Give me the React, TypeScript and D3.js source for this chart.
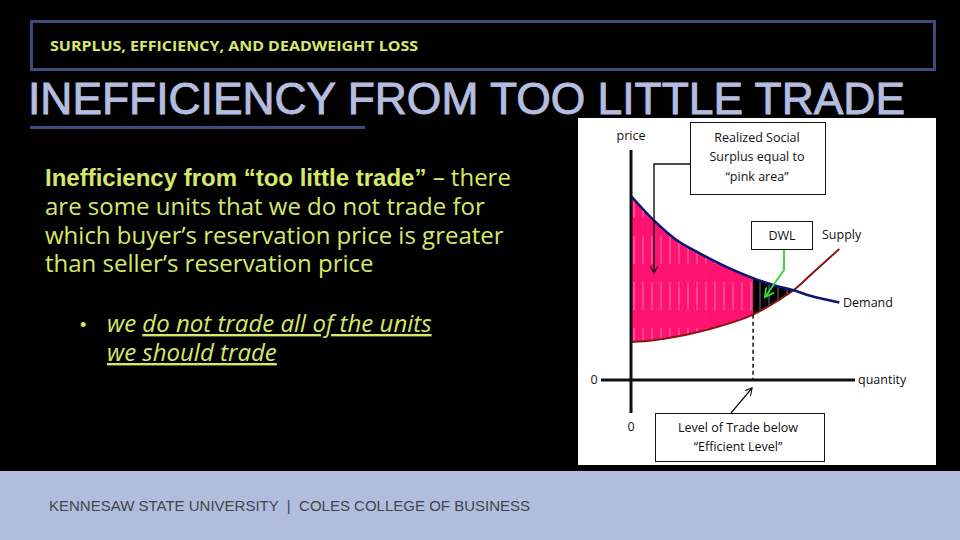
import React from "react";
import * as d3 from "d3";

// ---- data ----
const quantity = [0, 1, 2, 3, 4, 5.45, 6.5, 7.25, 8, 9.3];
const demandPrice = [8.0, 6.96, 6.11, 5.54, 5.04, 4.43, 4.09, 3.9, 3.66, 3.37];
const supplyPrice = [1.65, 1.73, 1.88, 2.09, 2.35, 2.84, 3.42, 3.9, 4.55, 5.7];
const tradeLevel = 5.45;
const efficientLevel = 7.25;
const axisMax = 10;

const headerText = "SURPLUS, EFFICIENCY, AND DEADWEIGHT LOSS";
const titleText = "INEFFICIENCY FROM TOO LITTLE TRADE";
const bodyLines = [
  "are some units that we do not trade for",
  "which buyer’s reservation price is greater",
  "than seller’s reservation price",
];
const footerText = "KENNESAW STATE UNIVERSITY  |  COLES COLLEGE OF BUSINESS";

type Pt = { q: number; d: number; s: number };
const rows: Pt[] = quantity.map((q, i) => ({ q, d: demandPrice[i], s: supplyPrice[i] }));

export default function App() {
  const x = d3.scaleLinear().domain([0, axisMax]).range([631, 855]);
  const y = d3.scaleLinear().domain([0, axisMax]).range([380, 150]);

  const lineD = d3.line<Pt>().x((r) => x(r.q)).y((r) => y(r.d)).curve(d3.curveMonotoneX);
  const lineS = d3.line<Pt>().x((r) => x(r.q)).y((r) => y(r.s)).curve(d3.curveMonotoneX);
  const area = d3
    .area<Pt>()
    .x((r) => x(r.q))
    .y0((r) => y(r.s))
    .y1((r) => y(r.d))
    .curve(d3.curveMonotoneX);

  const surplusRows = rows.filter((r) => r.q <= tradeLevel);
  const dwlRows = rows.filter((r) => r.q >= tradeLevel && r.q <= efficientLevel);
  const tradeRow = rows.find((r) => r.q === tradeLevel)!;

  const lab = { fontFamily: "'Open Sans', sans-serif", fontSize: 12.5, fill: "#111" } as const;
  const green = "#3ad63a";

  return (
    <svg
      width={960}
      height={540}
      style={{ position: "absolute", left: 0, top: 0, display: "block" }}
    >
      <defs>
        <pattern id="streak" patternUnits="userSpaceOnUse" width={9} height={46}>
          <line x1={4} y1={6} x2={4} y2={34} stroke="#fff" strokeOpacity={0.5} strokeWidth={0.9} />
        </pattern>
        <marker id="ah" viewBox="0 0 10 10" refX={9} refY={5} markerWidth={8} markerHeight={8} orient="auto-start-reverse" markerUnits="userSpaceOnUse">
          <path d="M0,0 L9,5 L0,10" fill="none" stroke="#111" strokeWidth={1.4} />
        </marker>
        <marker id="ahg" viewBox="0 0 10 10" refX={9} refY={5} markerWidth={10} markerHeight={10} orient="auto" markerUnits="userSpaceOnUse">
          <path d="M0,0 L9,5 L0,10" fill="none" stroke={green} strokeWidth={1.8} />
        </marker>
      </defs>

      <rect x={0} y={0} width={960} height={540} fill="#000" />

      {/* header */}
      <rect x={31.5} y={21.5} width={903} height={48} fill="none" stroke="#3e4a7e" strokeWidth={3} />
      <text
        x={50}
        y={51}
        fontFamily="'Open Sans', sans-serif"
        fontWeight={700}
        fontSize={15}
        fill="#d6e86a"
        textLength={368}
        lengthAdjust="spacingAndGlyphs"
      >
        {headerText}
      </text>
      <text
        x={28}
        y={114}
        fontFamily="'Liberation Sans', Arial, sans-serif"
        fontSize={44}
        fill="#b4bddf"
        stroke="#b4bddf"
        strokeWidth={0.9}
        textLength={877}
        lengthAdjust="spacingAndGlyphs"
      >
        {titleText}
      </text>
      <rect x={30} y={126} width={335} height={3} fill="#3e4a7e" />

      {/* body text */}
      <g fill="#d6e86a" fontSize={24}>
        <text x={45} y={186}>
          <tspan fontFamily="'Liberation Sans', Arial, sans-serif" fontWeight={700}>
            Inefficiency from “too little trade”
          </tspan>
          <tspan fontFamily="'Open Sans', sans-serif"> – there</tspan>
        </text>
        {bodyLines.map((t, i) => (
          <text key={i} x={45} y={215 + i * 28.7} fontFamily="'Open Sans', sans-serif">
            {t}
          </text>
        ))}
        <text x={80} y={331} fontFamily="'Liberation Sans', Arial, sans-serif" fontSize={18}>•</text>
        <text x={107} y={332} fontFamily="'Open Sans', sans-serif" fontStyle="italic">
          we <tspan style={{ textDecoration: "underline" }}>do not trade all of the units</tspan>
        </text>
        <text x={107} y={361} fontFamily="'Open Sans', sans-serif" fontStyle="italic" style={{ textDecoration: "underline" }}>
          we should trade
        </text>
      </g>

      {/* chart panel */}
      <rect x={578} y={118} width={358} height={347} fill="#fff" />

      {/* surplus area */}
      <path d={area(surplusRows)!} fill="#ff1270" />
      <path d={area(surplusRows)!} fill="url(#streak)" />
      {/* deadweight loss */}
      <path d={area(dwlRows)!} fill="#000" />
      <path d={area(dwlRows)!} fill="url(#streak)" />

      {/* curves */}
      <path d={lineS(rows)!} fill="none" stroke="#8e1414" strokeWidth={2} />
      <path d={lineD(rows)!} fill="none" stroke="#0b1670" strokeWidth={2.6} />

      {/* dashed trade level */}
      <line
        x1={x(tradeLevel)}
        x2={x(tradeLevel)}
        y1={y(tradeRow.s)}
        y2={y(0)}
        stroke="#111"
        strokeWidth={1.5}
        strokeDasharray="4 3"
      />

      {/* axes */}
      <line x1={x(0)} x2={x(0)} y1={y(axisMax)} y2={413} stroke="#111" strokeWidth={3} />
      <line x1={601} x2={x(axisMax)} y1={y(0)} y2={y(0)} stroke="#111" strokeWidth={3} />

      {/* axis labels */}
      <text {...lab} x={x(0)} y={140} textAnchor="middle">price</text>
      <text {...lab} x={858} y={384}>quantity</text>
      <text {...lab} x={594} y={384} textAnchor="middle">0</text>
      <text {...lab} x={x(0)} y={431} textAnchor="middle">0</text>
      <text {...lab} x={822} y={239}>Supply</text>
      <text {...lab} x={843} y={307}>Demand</text>

      {/* realized surplus box */}
      <rect x={690.5} y={122.5} width={135} height={72} fill="#fff" stroke="#111" strokeWidth={1} />
      <text {...lab} x={757} y={141.5} textAnchor="middle">Realized Social</text>
      <text {...lab} x={757} y={161} textAnchor="middle">Surplus equal to</text>
      <text {...lab} x={757} y={181} textAnchor="middle">“pink area”</text>
      <polyline points="690,164 654,164 654,273" fill="none" stroke="#111" strokeWidth={1.4} markerEnd="url(#ah)" />

      {/* DWL box */}
      <rect x={751.5} y={221.5} width={61} height={28} fill="#fff" stroke="#111" strokeWidth={1} />
      <text {...lab} x={782} y={239.5} textAnchor="middle">DWL</text>
      <polyline points="784,250 784,270 765,297" fill="none" stroke={green} strokeWidth={2} markerEnd="url(#ahg)" />

      {/* trade level box */}
      <rect x={655.5} y={413.5} width={169} height={48} fill="#fff" stroke="#111" strokeWidth={1} />
      <text {...lab} x={738} y={432} textAnchor="middle">Level of Trade below</text>
      <text {...lab} x={738} y={451} textAnchor="middle">“Efficient Level”</text>
      <line x1={731} y1={413} x2={x(tradeLevel) - 1} y2={388} stroke="#111" strokeWidth={1.2} markerEnd="url(#ah)" />

      {/* footer */}
      <rect x={0} y={471} width={960} height={69} fill="#b1bddd" />
      <text
        x={49}
        y={511}
        fontFamily="'Liberation Sans', Arial, sans-serif"
        fontSize={15}
        fill="#3d464e"
        textLength={481}
        lengthAdjust="spacingAndGlyphs"
        xmlSpace="preserve"
      >
        {footerText}
      </text>
    </svg>
  );
}
